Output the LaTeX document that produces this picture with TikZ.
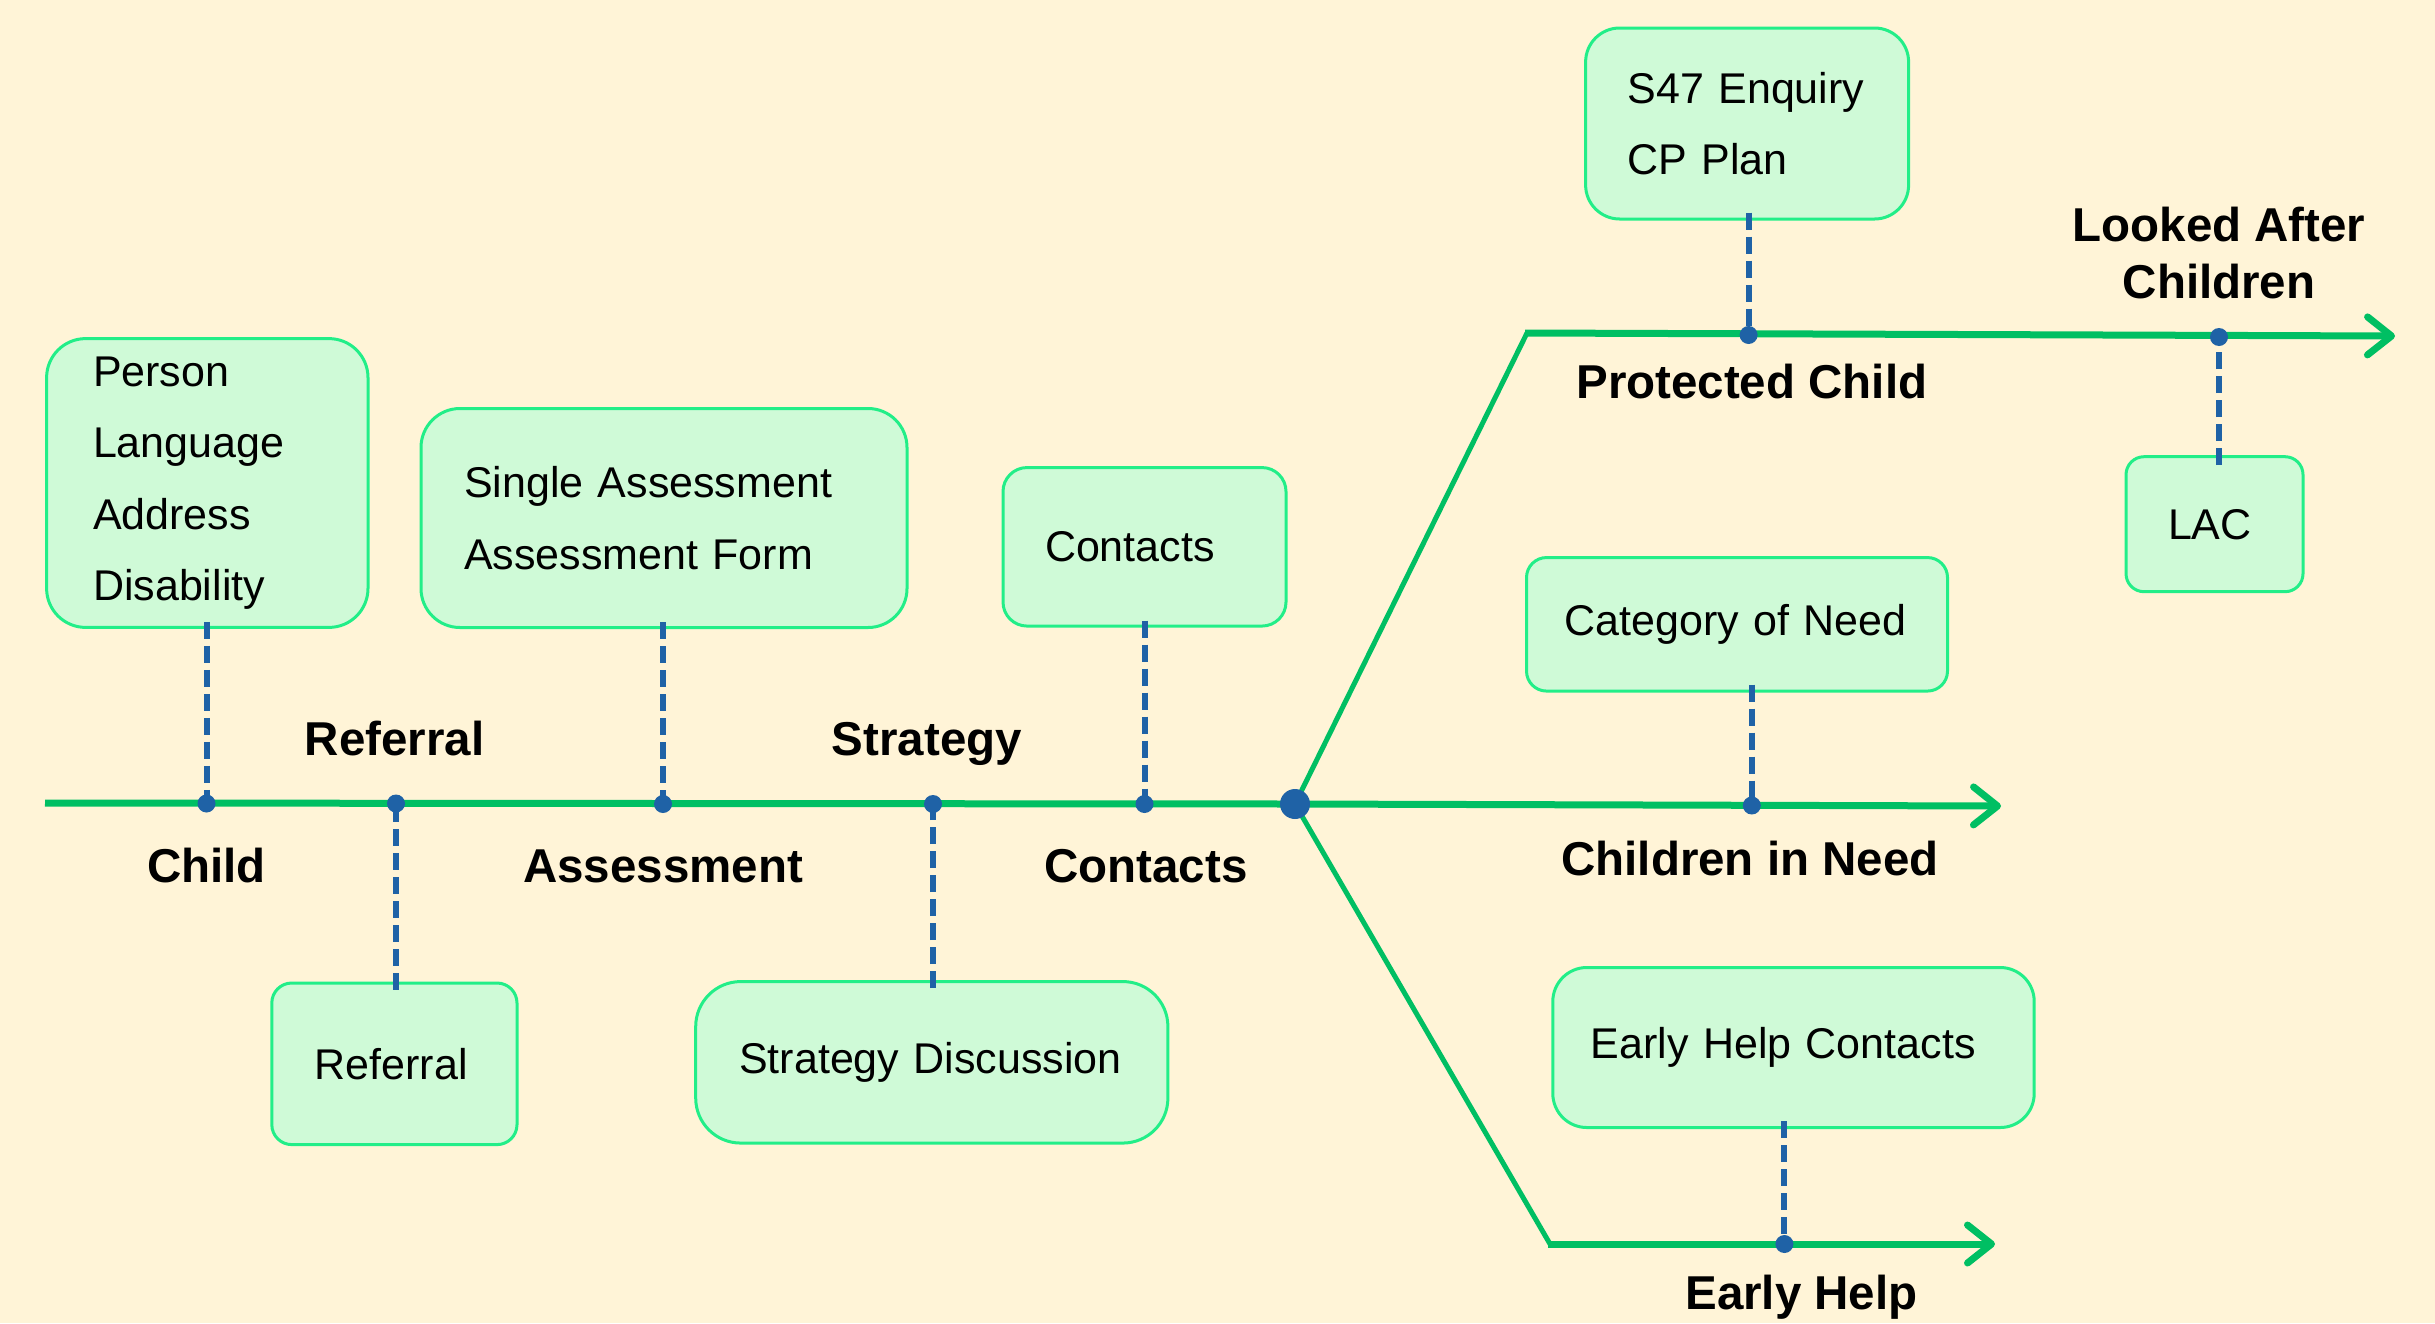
\documentclass[tikz,border=0pt]{standalone}
\usepackage{fontspec}
\setmainfont{Liberation Sans}
\usetikzlibrary{arrows.meta,calc}
\definecolor{bgc}{HTML}{FFF4D7}
\definecolor{boxfill}{HTML}{CFFAD7}
\definecolor{boxline}{HTML}{22EE88}
\definecolor{trunk}{HTML}{00BF63}
\definecolor{dotblue}{HTML}{1F62A6}
\pgfdeclarelayer{background}
\pgfdeclarelayer{lines}
\pgfsetlayers{background,lines,main}
\tikzset{
  box/.style={draw=boxline, fill=boxfill, line width=3pt, rectangle,
    font=\fontsize{43}{71.4}\selectfont, inner ysep=0pt, align=left},
  lab/.style={font=\fontsize{47.5}{57.5}\selectfont\bfseries, inner sep=0pt},
  trunkline/.style={draw=trunk, line width=7pt},
  branchline/.style={draw=trunk, line width=5pt},
  arrowline/.style={draw=trunk, line width=7pt, -{Straight Barb[length=24pt,width=38pt,round]}},
  conn/.style={draw=dotblue, line width=6pt, dash pattern=on 17pt off 7pt},
  dotnode/.style={circle, fill=dotblue, inner sep=0pt, minimum size=18pt},
  bigdot/.style={circle, fill=dotblue, inner sep=0pt, minimum size=30pt}
}
\begin{document}
\begin{tikzpicture}[x=1pt,y=-1pt]
\begin{pgfonlayer}{background}
\fill[bgc] (0,0) rectangle (2435,1323);
\end{pgfonlayer}
\useasboundingbox (0,0) rectangle (2435,1323);

% hub and line points
\node[bigdot] (hub) at (1295,804) {};
\coordinate (mStart) at (45,803);
\coordinate (topCorner) at (1527,333);
\coordinate (topEnd) at (2395,336);
\coordinate (midEnd) at (2001,806);
\coordinate (botCorner) at (1550,1244);
\coordinate (botEnd) at (1995,1244);

\begin{pgfonlayer}{lines}
\draw[trunkline] (mStart) -- (hub.center);
\draw[arrowline] (hub.center) -- (midEnd);
\draw[branchline] (hub.center) -- (topCorner);
\draw[arrowline] ($(topCorner)+(-2,0)$) -- (topEnd);
\draw[branchline] (hub.center) -- (botCorner);
\draw[arrowline] ($(botCorner)+(-2,0)$) -- (botEnd);
\end{pgfonlayer}

% boxes
\node[box, rounded corners=39pt, minimum width=321.4pt, minimum height=288.8pt,
  inner xsep=46.4pt, text width=228.6pt] (bPerson) at (207.3,483)
  {Person\\Language\\Address\\Disability};
\node[box, rounded corners=39pt, minimum width=486pt, minimum height=219pt,
  inner xsep=43pt, text width=400pt] (bAssess) at (664,518)
  {Single Assessment\\Assessment Form};
\node[box, rounded corners=24pt, minimum width=283pt, minimum height=158.5pt,
  inner xsep=42pt, text width=199pt] (bContacts) at (1144.5,546.8) {Contacts};
\node[box, rounded corners=20pt, minimum width=245.2pt, minimum height=161.6pt,
  inner xsep=43pt, text width=159.2pt] (bReferral) at (394.4,1063.8) {Referral};
\node[box, rounded corners=45pt, minimum width=472.2pt, minimum height=161.5pt,
  inner xsep=43.5pt, text width=385.2pt] (bStrategy) at (931.8,1062.3) {Strategy Discussion};
\node[box, rounded corners=34pt, minimum width=323pt, minimum height=191pt,
  inner xsep=42pt, text width=239pt] (bS47) at (1747.1,123.5)
  {S47 Enquiry\\CP Plan};
\node[box, rounded corners=18pt, minimum width=177pt, minimum height=135pt,
  inner xsep=42pt, text width=93pt] (bLAC) at (2214.5,524.2) {LAC};
\node[box, rounded corners=20pt, minimum width=421pt, minimum height=133.5pt,
  inner xsep=38pt, text width=345pt] (bCat) at (1737,624.3) {Category of Need};
\node[box, rounded corners=34pt, minimum width=481.4pt, minimum height=160pt,
  inner xsep=38pt, text width=405.4pt] (bEH) at (1793.5,1047.5) {Early Help Contacts};

% dots
\node[dotnode] (dChild) at (206.5,803.5) {};
\node[dotnode] (dRef) at (396,803.5) {};
\node[dotnode] (dAss) at (663,804) {};
\node[dotnode] (dStr) at (933,804) {};
\node[dotnode] (dCon) at (1144.5,804) {};
\node[dotnode] (dPC) at (1748.6,335) {};
\node[dotnode] (dLAC) at (2219,337) {};
\node[dotnode] (dCIN) at (1751.8,805.5) {};
\node[dotnode] (dEH) at (1784.4,1244) {};

% dashed connectors
\draw[conn] ($(bPerson.south -| dChild)+(0,-7)$) -- (dChild.center);
\draw[conn] ($(bReferral.north -| dRef)+(0,8)$) -- (dRef.center);
\draw[conn] ($(bAssess.south -| dAss)+(0,-7)$) -- (dAss.center);
\draw[conn] ($(bStrategy.north -| dStr)+(0,8)$) -- (dStr.center);
\draw[conn] ($(bContacts.south -| dCon)+(0,-7)$) -- (dCon.center);
\draw[conn] ($(bS47.south -| dPC)+(0,-8)$) -- (dPC.center);
\draw[conn] ($(bLAC.north -| dLAC)+(0,10)$) -- (dLAC.center);
\draw[conn] ($(bCat.south -| dCIN)+(0,-8)$) -- (dCIN.center);
\draw[conn] ($(bEH.south -| dEH)+(0,-8)$) -- (dEH.center);

% labels
\node[lab, anchor=base] (lChild) at (206.5,882.6) {Child};
\node[lab, anchor=base] (lRef) at (394.5,755) {Referral};
\node[lab, anchor=base] (lAss) at (663,882.6) {Assessment};
\node[lab, anchor=base] (lStr) at (927,755) {Strategy};
\node[lab, anchor=base] (lCon) at (1146,882.6) {Contacts};
\node[lab, anchor=base] (lPC) at (1751.8,398) {Protected Child};
\node[lab, align=center] (lLAC) at (2219,253) {Looked After\\Children};
\node[lab, anchor=base] (lCIN) at (1750,875) {Children in Need};
\node[lab, anchor=base] (lEH) at (1801.5,1309.6) {Early Help};
\end{tikzpicture}
\end{document}
